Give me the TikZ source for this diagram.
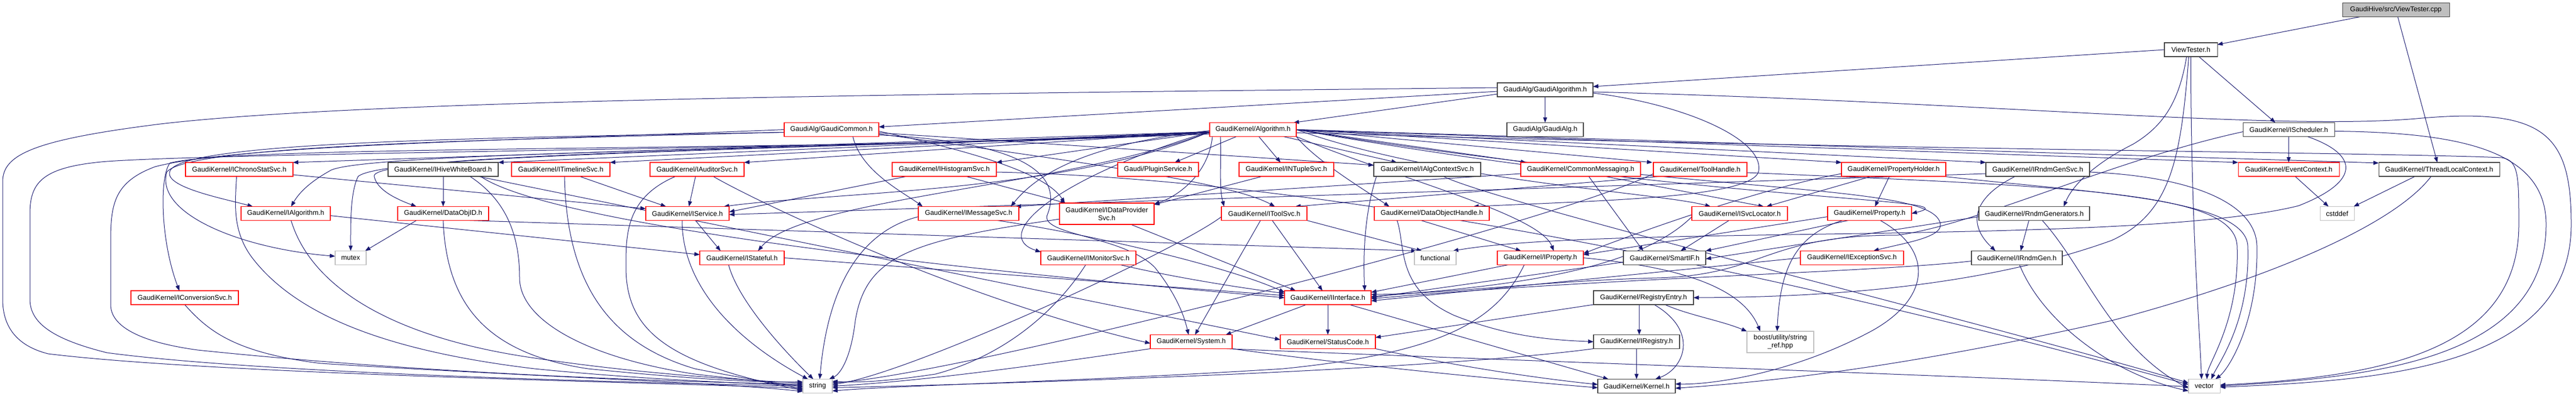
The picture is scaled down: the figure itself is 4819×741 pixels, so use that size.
\documentclass[tikz,border=0pt]{standalone}
\usepackage{fontspec}
\setmainfont{Liberation Sans}
\usetikzlibrary{arrows.meta}
\definecolor{navy}{RGB}{25,25,112}
\newcommand\nodefont{\fontsize{12.9pt}{15pt}\selectfont}
\pgfdeclarelayer{edgelayer}
\pgfsetlayers{edgelayer,main}
\tikzset{
  nb/.style={draw, line width=1.1pt, fill=white, minimum height=26pt, inner sep=0pt, outer sep=0pt, font=\nodefont, align=center, text=black},
  rn/.style={nb, draw=red},
  bn/.style={nb, draw=black!75},
  gn/.style={nb, draw=black!25},
  e/.style={draw=navy, line width=1pt, -{Triangle[length=10pt,width=7.5pt]}, fill=none}
}
\begin{document}
\begin{tikzpicture}[x=1pt,y=-1pt]
\useasboundingbox (0,0) rectangle (4819,741);
% ---------------- nodes
\node[bn, fill=black!25, minimum width=200pt] (cpp) at (4482,18.5) {GaudiHive/src/ViewTester.cpp};
\node[bn, minimum width=99pt] (vth) at (4098.5,93) {ViewTester.h};
\node[bn, minimum width=179pt] (galgo) at (2890.5,168) {GaudiAlg/GaudiAlgorithm.h};
\node[rn, minimum width=177pt] (gcommon) at (1555.5,242.5) {GaudiAlg/GaudiCommon.h};
\node[rn, minimum width=162pt] (algo) at (2344,242.5) {GaudiKernel/Algorithm.h};
\node[bn, minimum width=143pt] (galg) at (2890.5,242.5) {GaudiAlg/GaudiAlg.h};
\node[bn, minimum width=171pt] (isched) at (4281.5,242.5) {GaudiKernel/IScheduler.h};
% row 317
\node[rn, minimum width=201pt] (ichrono) at (447.5,317) {GaudiKernel/IChronoStatSvc.h};
\node[bn, minimum width=206pt] (ihive) at (829,317) {GaudiKernel/IHiveWhiteBoard.h};
\node[rn, minimum width=184pt] (itimeline) at (1049,317) {GaudiKernel/ITimelineSvc.h};
\node[rn, minimum width=176pt] (iauditor) at (1304,317) {GaudiKernel/IAuditorSvc.h};
\node[rn, minimum width=195pt] (ihisto) at (1766.5,317) {GaudiKernel/IHistogramSvc.h};
\node[rn, minimum width=151pt] (plugin) at (2166.5,317) {Gaudi/PluginService.h};
\node[rn, minimum width=177pt] (intuple) at (2406.5,317) {GaudiKernel/INTupleSvc.h};
\node[bn, minimum width=200pt] (ialgctx) at (2670,317) {GaudiKernel/IAlgContextSvc.h};
\node[rn, minimum width=224pt] (commsg) at (2957,317) {GaudiKernel/CommonMessaging.h};
\node[rn, minimum width=175pt] (toolh) at (3180.5,317) {GaudiKernel/ToolHandle.h};
\node[rn, minimum width=195pt] (propholder) at (3542.5,317) {GaudiKernel/PropertyHolder.h};
\node[bn, minimum width=194pt] (irndmsvc) at (3812,317) {GaudiKernel/IRndmGenSvc.h};
\node[rn, minimum width=189pt] (evctx) at (4281.5,317) {GaudiKernel/EventContext.h};
\node[bn, minimum width=226pt] (tlc) at (4563,317) {GaudiKernel/ThreadLocalContext.h};
% row 399.5
\node[rn, minimum width=167pt] (ialgorithm) at (534.5,399.5) {GaudiKernel/IAlgorithm.h};
\node[rn, minimum width=170pt] (dataobjid) at (829,399.5) {GaudiKernel/DataObjID.h};
\node[rn, minimum width=156pt] (iservice) at (1286,399.5) {GaudiKernel/IService.h};
\node[rn, minimum width=188pt] (imsgsvc) at (1812,399.5) {GaudiKernel/IMessageSvc.h};
\node[rn, minimum width=177pt, minimum height=40pt] (idataprov) at (2070.5,400) {GaudiKernel/IDataProvider\\Svc.h};
\node[rn, minimum width=160pt] (itoolsvc) at (2365,399.5) {GaudiKernel/IToolSvc.h};
\node[rn, minimum width=215pt] (dohandle) at (2678.5,399.5) {GaudiKernel/DataObjectHandle.h};
\node[rn, minimum width=179pt] (isvcloc) at (3254.5,399.5) {GaudiKernel/ISvcLocator.h};
\node[rn, minimum width=157pt] (property) at (3497.5,399.5) {GaudiKernel/Property.h};
\node[bn, minimum width=207pt] (rndmgens) at (3805.5,399.5) {GaudiKernel/RndmGenerators.h};
\node[gn, minimum width=64pt] (cstddef) at (4372,399.5) {cstddef};
% row 482.5
\node[gn, minimum width=58pt] (mutex) at (656,482.5) {mutex};
\node[rn, minimum width=158pt] (istateful) at (1388,482.5) {GaudiKernel/IStateful.h};
\node[rn, minimum width=178pt] (imonitor) at (2036,482.5) {GaudiKernel/IMonitorSvc.h};
\node[gn, minimum width=78pt] (functional) at (2685,482.5) {functional};
\node[rn, minimum width=161pt] (iproperty) at (2881.5,482.5) {GaudiKernel/IProperty.h};
\node[bn, minimum width=154pt] (smartif) at (3114,482.5) {GaudiKernel/SmartIF.h};
\node[rn, minimum width=193pt] (iexception) at (3464.5,482.5) {GaudiKernel/IExceptionSvc.h};
\node[bn, minimum width=170pt] (irndmgen) at (3773,482.5) {GaudiKernel/IRndmGen.h};
% row 557
\node[rn, minimum width=201pt] (iconversion) at (345.5,557) {GaudiKernel/IConversionSvc.h};
\node[rn, minimum width=162pt] (iinterface) at (2484,557) {GaudiKernel/IInterface.h};
\node[bn, minimum width=187pt] (regentry) at (3074.5,557) {GaudiKernel/RegistryEntry.h};
% row 639.5
\node[gn, minimum width=125pt, minimum height=40pt] (boost) at (3330.5,640) {boost/utility/string\\\_ref.hpp};
\node[rn, minimum width=153pt] (system) at (2228.5,639.5) {GaudiKernel/System.h};
\node[rn, minimum width=178pt] (statuscode) at (2484,639.5) {GaudiKernel/StatusCode.h};
\node[bn, minimum width=161pt] (iregistry) at (3061.5,639.5) {GaudiKernel/IRegistry.h};
% row 722.5
\node[gn, minimum width=55pt] (string) at (1529.5,722.5) {string};
\node[bn, minimum width=145pt] (kernel) at (3061.5,722.5) {GaudiKernel/Kernel.h};
\node[gn, minimum width=59pt] (vector) at (4123.5,722.5) {vector};

\begin{pgfonlayer}{edgelayer}
\fill[white] (0,0) rectangle (4819,741);
% root
\draw[e] (cpp) -- (vth);
\draw[e] (cpp) -- (tlc);
% ViewTester.h
\draw[e] (vth.west) -- ([yshift=6pt]galgo.east);
\draw[e] ([xshift=15pt]vth.south) -- ([xshift=-25pt]isched.north);
\draw[e] (vth.south) .. controls (4098,400) and (4115,620) .. ([xshift=-5pt]vector.north);
\draw[e] ([xshift=-8pt]vth.south) .. controls (4075,200) and (4040,240) .. (3990,270) .. controls (3930,300) and (3880,340) .. ([xshift=55pt]rndmgens.north);
\draw[e] ([xshift=-4pt]vth.south) .. controls (4080,300) and (4060,400) .. (3950,450) .. controls (3700,540) and (3400,556) .. (regentry.east);
% GaudiAlgorithm.h
\draw[e] (galgo) -- (galg);
\draw[e] ([yshift=-3pt]galgo.west) -- ([yshift=5pt]gcommon.east);
\draw[e] ([yshift=-8pt]galgo.west) -- ([xshift=-5pt]algo.north east);
\draw[e] ([yshift=4pt]galgo.west) .. controls (1800,175) and (700,185) .. (300,232) .. controls (60,262) and (5,290) .. (5,340) -- (5,560) .. controls (5,615) and (35,648) .. (90,662) .. controls (400,700) and (1200,715) .. ([yshift=-4pt]string.west);
\draw[e] ([yshift=-4pt]galgo.east) .. controls (3700,190) and (4250,245) .. (4520,222) .. controls (4760,200) and (4810,250) .. (4810,420) .. controls (4810,690) and (4450,712) .. ([yshift=-2pt]vector.east);
\draw[e] ([yshift=-6pt]galgo.east) .. controls (3150,195) and (3300,260) .. (3290,320) .. controls (3280,370) and (3000,375) .. ([xshift=-30pt]dohandle.north east);
% Algorithm.h fan
\draw[e] ([yshift=-4pt]algo.west) -- (ichrono.north east);
\draw[e] ([yshift=-4pt]algo.west) -- (ihive.north east);
\draw[e] ([yshift=-4pt]algo.west) -- (itimeline.north east);
\draw[e] ([yshift=-4pt]algo.west) -- (iauditor.north east);
\draw[e] ([yshift=-4pt]algo.west) -- (ihisto.north east);
\draw[e] (algo) -- (plugin);
\draw[e] (algo) -- (intuple);
\draw[e] (algo) -- (ialgctx);
\draw[e] (algo.east) -- ([xshift=10pt]commsg.north west);
\draw[e] (algo.east) -- ([xshift=-2pt]toolh.north west);
\draw[e] (algo.east) -- (propholder.north west);
\draw[e] (algo.east) -- (irndmsvc.north west);
\draw[e] (algo.east) -- (evctx.north west);
\draw[e] (algo.east) -- ([yshift=-1pt]tlc.north west);
\draw[e] ([yshift=-6pt]algo.east) .. controls (3500,280) and (4450,285) .. (4680,295) .. controls (4712,300) and (4712,330) .. (4712,420) .. controls (4712,660) and (4450,705) .. ([yshift=2pt]vector.east);
\draw[e] ([yshift=-6pt]algo.west) .. controls (1500,280) and (700,285) .. (620,318) .. controls (580,340) and (560,360) .. ([xshift=10pt]ialgorithm.north);
\draw[e] ([yshift=-6pt]algo.west) .. controls (1600,278) and (690,285) .. (700,330) .. controls (705,355) and (740,372) .. ([xshift=35pt]dataobjid.north west);
\draw[e] ([yshift=-6pt]algo.west) .. controls (1400,282) and (720,290) .. (670,330) .. controls (655,360) and (656,420) .. (mutex.north);
\draw[e] ([yshift=-8pt]algo.west) .. controls (1500,285) and (450,270) .. (318,305) .. controls (298,330) and (300,450) .. ([xshift=-10pt]iconversion.north);
\draw[e] ([yshift=-8pt]algo.west) .. controls (1500,280) and (450,285) .. (200,302) .. controls (80,312) and (56,340) .. (56,400) -- (56,560) .. controls (56,605) and (100,635) .. (200,660) .. controls (500,700) and (1200,716) .. (string.west);
\draw[e] ([yshift=-4pt]algo.west) .. controls (2000,360) and (1550,360) .. ([xshift=-10pt]iservice.north east);
\draw[e] ([yshift=-4pt]algo.west) .. controls (2000,350) and (1500,370) .. ([xshift=30pt]istateful.north);
\draw[e] ([yshift=-2pt]algo.west) .. controls (2100,262) and (1960,300) .. ([xshift=-15pt]imsgsvc.north east);
\draw[e] ([xshift=5pt]algo.south west) .. controls (2262,320) and (2210,365) .. ([yshift=-2pt]idataprov.north east);
\draw[e] ([xshift=20pt]algo.south west) .. controls (2285,300) and (2280,350) .. ([xshift=5pt]itoolsvc.north west);
\draw[e] ([yshift=-4pt]algo.west) .. controls (1980,330) and (1850,440) .. ([yshift=-2pt]imonitor.north west);
\draw[e] (algo.south east) .. controls (2460,300) and (2560,360) .. ([xshift=28pt]dohandle.north west);
\draw[e] (algo.east) .. controls (2700,340) and (3100,360) .. ([xshift=35pt]isvcloc.north west);
\draw[e] (algo.east) .. controls (3200,380) and (3700,370) .. (property.east);
\draw[e] (algo.south east) .. controls (2600,330) and (2880,400) .. ([xshift=25pt]iproperty.north);
\draw[e] (algo.east) .. controls (3200,370) and (3620,340) .. (3630,420) .. controls (3632,445) and (3560,455) .. ([xshift=40pt]iexception.north);
% GaudiCommon.h
\draw[e] ([yshift=-5pt]gcommon.west) .. controls (900,258) and (340,265) .. (318,320) .. controls (305,350) and (420,372) .. ([xshift=22pt]ialgorithm.north west);
\draw[e] ([yshift=-5pt]gcommon.west) .. controls (900,262) and (350,272) .. (312,322) .. controls (290,400) and (450,465) .. ([yshift=3pt]mutex.west);
\draw[e] (gcommon.west) .. controls (1000,262) and (450,270) .. (290,312) .. controls (215,340) and (207,380) .. (207,450) -- (207,570) .. controls (207,610) and (260,640) .. (370,655) .. controls (800,700) and (1300,716) .. ([yshift=4pt]string.west);
\draw[e] ([yshift=-6pt]gcommon.east) -- ([yshift=8pt]ialgctx.west);
\draw[e] ([xshift=40pt]gcommon.south) .. controls (1610,320) and (1690,360) .. ([xshift=8pt]imsgsvc.north west);
\draw[e] ([yshift=-3pt]gcommon.east) .. controls (1850,290) and (1960,330) .. ([xshift=10pt]idataprov.north west);
\draw[e] ([yshift=-8pt]gcommon.east) .. controls (2000,300) and (2300,340) .. ([xshift=20pt]itoolsvc.north);
\draw[e] ([yshift=-10pt]gcommon.east) .. controls (1900,265) and (1990,320) .. (1960,400) .. controls (1940,440) and (2100,440) .. (2160,500) .. controls (2200,550) and (2215,590) .. ([xshift=-5pt]system.north);
% row 317 sources
\draw[e] ([yshift=-10pt]ichrono.east) -- ([yshift=9pt]iservice.west);
\draw[e] ([xshift=-5pt]ichrono.south) .. controls (440,380) and (434,430) .. (470,480) .. controls (560,600) and (750,660) .. (1000,690) .. controls (1200,710) and (1400,718) .. ([yshift=2pt]string.west);
\draw[e] (ihive) -- (dataobjid);
\draw[e] ([xshift=70pt]ihive.south) .. controls (1000,400) and (1500,480) .. (iinterface.west);
\draw[e] ([xshift=65pt]ihive.south) -- ([yshift=4pt]statuscode.west);
\draw[e] ([xshift=50pt]ihive.south) .. controls (940,370) and (972,430) .. (972,520) .. controls (972,600) and (1100,670) .. (1300,700) .. controls (1400,712) and (1460,716) .. ([yshift=-2pt]string.west);
\draw[e] ([xshift=35pt]itimeline.south) -- ([xshift=-40pt]iservice.north);
\draw[e] ([xshift=7pt]itimeline.south) .. controls (1060,520) and (1130,640) .. (1300,690) .. controls (1400,710) and (1450,716) .. ([yshift=-6pt]string.west);
\draw[e] (iauditor) -- (iservice);
\draw[e] ([xshift=-40pt]iauditor.south) .. controls (1170,370) and (1171,440) .. (1171,500) .. controls (1171,620) and (1250,680) .. ([yshift=-8pt]string.west);
\draw[e] ([xshift=30pt]iauditor.south) .. controls (1420,380) and (1800,560) .. ([yshift=-3pt]system.west);
\draw[e] ([xshift=40pt]ihisto.south) -- ([xshift=12pt]idataprov.north west);
\draw[e] ([xshift=-70pt]ihisto.south) -- ([yshift=3pt]iservice.east);
\draw[e] ([yshift=-5pt]ihisto.east) .. controls (2700,340) and (3800,640) .. ([yshift=3pt]vector.west);
\draw[e] ([xshift=-45pt]intuple.south) -- ([yshift=-3pt]idataprov.north east);
\draw[e] ([xshift=5pt]ialgctx.south west) .. controls (2552,400) and (2550,480) .. ([xshift=-12pt]iinterface.north east);
\draw[e] ([xshift=30pt]ialgctx.south) .. controls (2800,380) and (3700,600) .. ([yshift=6pt]vector.west);
\draw[e] ([yshift=-8pt]commsg.west) -- ([xshift=-6pt]imsgsvc.north east);
\draw[e] ([xshift=15pt]commsg.south) -- ([xshift=-40pt]smartif.north);
\draw[e] ([xshift=45pt]commsg.south) -- ([xshift=45pt]isvcloc.north);
\draw[e] ([xshift=15pt]toolh.south west) -- ([xshift=-22pt]itoolsvc.north east);
\draw[e] ([yshift=-8pt]toolh.west) .. controls (2900,420) and (1800,700) .. ([yshift=6pt]string.east);
\draw[e] ([yshift=-6pt]toolh.east) .. controls (3900,350) and (4180,360) .. (4185,460) .. controls (4190,600) and (4130,680) .. ([xshift=5pt]vector.north);
\draw[e] ([xshift=-8pt]propholder.south) -- ([xshift=10pt]property.north);
\draw[e] ([xshift=-42pt]propholder.south) -- ([xshift=50pt]isvcloc.north);
\draw[e] ([yshift=-8pt]propholder.west) .. controls (3300,350) and (3050,440) .. ([yshift=8pt]iproperty.east);
\draw[e] ([xshift=-5pt]propholder.south east) .. controls (3900,360) and (4200,370) .. (4205,460) .. controls (4210,600) and (4150,680) .. ([xshift=13pt]vector.north);
\draw[e] ([xshift=-42pt]irndmsvc.south) .. controls (3690,370) and (3680,420) .. ([xshift=-40pt]irndmgen.north);
\draw[e] ([yshift=-8pt]irndmsvc.west) -- ([yshift=-2pt]iservice.east);
\draw[e] ([yshift=-5pt]irndmsvc.east) .. controls (4100,330) and (4220,380) .. (4222,460) .. controls (4225,600) and (4170,690) .. ([xshift=21pt]vector.north);
\draw[e] ([xshift=12pt]evctx.south) -- ([xshift=-16pt]cstddef.north);
\draw[e] ([xshift=-45pt]tlc.south) -- ([xshift=-1pt]cstddef.north east);
\draw[e] ([xshift=-15pt]tlc.south) .. controls (4480,420) and (4250,520) .. (3950,600) .. controls (3550,690) and (3300,715) .. ([yshift=-4pt]kernel.east);
% IScheduler.h
\draw[e] (isched) -- (evctx);
\draw[e] ([yshift=-4pt]isched.west) .. controls (3950,300) and (3700,420) .. (3550,440) .. controls (3300,440) and (3300,515) .. (3100,520) .. controls (2900,525) and (2700,550) .. ([yshift=6pt]iinterface.east);
\draw[e] ([xshift=35pt]isched.south) .. controls (4415,290) and (4415,340) .. (4300,385) .. controls (4000,460) and (3000,420) .. ([xshift=-6pt]functional.north east);
\draw[e] ([yshift=-3pt]isched.east) .. controls (4600,248) and (4763,280) .. (4763,420) .. controls (4763,680) and (4420,706) .. (vector.east);
% row 399 sources
\draw[e] ([yshift=-4pt]ialgorithm.east) -- ([yshift=6pt]istateful.west);
\draw[e] ([xshift=10pt]ialgorithm.south) .. controls (580,530) and (720,630) .. (1000,670) .. controls (1200,700) and (1400,712) .. ([yshift=6pt]string.west);
\draw[e] ([xshift=-50pt]dataobjid.south) -- ([xshift=-2pt]mutex.north east);
\draw[e] (dataobjid.south) .. controls (835,560) and (900,660) .. (1100,690) .. controls (1300,710) and (1420,716) .. ([yshift=8pt]string.west);
\draw[e] ([xshift=50pt]dataobjid.south) -- ([xshift=4pt]functional.north west);
\draw[e] ([xshift=15pt]iservice.south) -- ([xshift=-40pt]istateful.north);
\draw[e] ([xshift=-10pt]iservice.south) .. controls (1276,550) and (1400,650) .. ([xshift=-18pt]string.north);
\draw[e] ([xshift=-25pt]istateful.south) .. controls (1380,560) and (1460,650) .. ([xshift=-8pt]string.north);
\draw[e] (istateful.east) -- ([yshift=4pt]iinterface.west);
\draw[e] ([yshift=-6pt]imsgsvc.west) .. controls (1620,430) and (1550,520) .. ([xshift=4pt]string.north);
\draw[e] ([xshift=-40pt]imsgsvc.south east) .. controls (2050,440) and (2300,500) .. ([yshift=-3pt]iinterface.north west);
\draw[e] ([yshift=-10pt]idataprov.west) .. controls (1700,450) and (1620,480) .. (1600,600) .. controls (1592,670) and (1572,700) .. ([xshift=-6pt]string.north east);
\draw[e] ([xshift=45pt]idataprov.south) -- ([xshift=-60pt]iinterface.north);
\draw[e] ([xshift=-7pt]itoolsvc.south) -- ([xshift=7pt]system.north);
\draw[e] ([xshift=15pt]itoolsvc.south) -- ([xshift=-10pt]iinterface.north);
\draw[e] ([yshift=-6pt]itoolsvc.west) .. controls (2200,470) and (1700,700) .. ([yshift=3pt]string.east);
\draw[e] (itoolsvc.south east) -- ([xshift=14pt]functional.north west);
\draw[e] ([xshift=-65pt]dohandle.south) .. controls (2630,460) and (2610,540) .. (2720,590) .. controls (2820,630) and (2900,636) .. (iregistry.west);
\draw[e] ([xshift=-20pt]dohandle.south) -- ([xshift=-36pt]iproperty.north);
\draw[e] ([xshift=-20pt]isvcloc.south) -- ([xshift=30pt]smartif.north);
\draw[e] ([yshift=-6pt]isvcloc.west) .. controls (3050,520) and (2750,540) .. ([yshift=2pt]iinterface.east);
\draw[e] ([yshift=-6pt]property.west) -- ([yshift=6pt]iproperty.east);
\draw[e] ([xshift=-40pt]property.south) -- (smartif.north east);
\draw[e] ([xshift=-51pt]property.south) .. controls (3360,440) and (3330,500) .. ([xshift=-6pt]boost.north);
\draw[e] ([xshift=20pt]property.south) .. controls (3620,470) and (3610,560) .. (3500,620) .. controls (3350,700) and (3200,720) .. ([yshift=4pt]kernel.east);
\draw[e] ([xshift=-10pt]rndmgens.south) -- ([xshift=7pt]irndmgen.north);
\draw[e] ([yshift=-6pt]rndmgens.west) -- ([yshift=-2pt]smartif.east);
\draw[e] ([xshift=15pt]rndmgens.south) .. controls (3900,500) and (3950,650) .. ([yshift=-4pt]vector.west);
% row 482 sources
\draw[e] ([yshift=-6pt]irndmgen.west) .. controls (3500,510) and (3000,520) .. ([yshift=-2pt]iinterface.east);
\draw[e] ([xshift=5pt]irndmgen.south) .. controls (3820,600) and (3950,700) .. ([yshift=-9pt]vector.west);
\draw[e] (iexception.west) -- ([yshift=-6pt]iinterface.east);
\draw[e] ([xshift=-60pt]iproperty.south) -- ([yshift=10pt]iinterface.east);
\draw[e] ([xshift=-30pt]iproperty.south) .. controls (2800,600) and (2700,660) .. (2400,690) .. controls (2000,715) and (1700,720) .. ([yshift=-9pt]string.east);
\draw[e] (iproperty.east) .. controls (3150,500) and (3260,540) .. ([xshift=25pt]boost.north west);
\draw[e] ([yshift=-8pt]smartif.west) -- (iinterface.east);
\draw[e] ([xshift=-5pt]imonitor.south) .. controls (1990,560) and (1900,660) .. (1750,700) .. controls (1650,715) and (1600,716) .. ([yshift=9pt]string.east);
\draw[e] ([xshift=60pt]imonitor.south) .. controls (2200,520) and (2330,540) .. ([yshift=8pt]iinterface.west);
% row 557 sources
\draw[e] (iconversion.south) .. controls (390,620) and (440,660) .. (600,680) .. controls (1000,705) and (1350,716) .. ([yshift=-10pt]string.west);
\draw[e] (iinterface) -- (statuscode);
\draw[e] ([xshift=-40pt]iinterface.south) -- ([xshift=-12pt]system.north east);
\draw[e] ([xshift=40pt]iinterface.south) -- ([xshift=20pt]kernel.north west);
\draw[e] (regentry.south west) -- ([yshift=8pt]statuscode.east);
\draw[e] ([xshift=-8pt]regentry.south) -- ([xshift=5pt]iregistry.north);
\draw[e] ([xshift=20pt]regentry.south) .. controls (3180,620) and (3150,690) .. ([xshift=35pt]kernel.north);
\draw[e] ([xshift=40pt]regentry.south) .. controls (3160,590) and (3220,600) .. (boost.north west);
% bottom rows
\draw[e] (system.south west) .. controls (1900,690) and (1700,715) .. (string.east);
\draw[e] (system.south east) .. controls (2500,680) and (2800,710) .. ([yshift=-3pt]kernel.west);
\draw[e] ([xshift=-10pt]system.south east) .. controls (2700,670) and (3600,700) .. ([yshift=-1pt]vector.west);
\draw[e] (statuscode.south east) .. controls (2700,680) and (2850,705) .. ([yshift=3pt]kernel.west);
\draw[e] (iregistry) -- (kernel);
\draw[e] (iregistry.south west) .. controls (2700,690) and (2000,715) .. ([yshift=-3pt]string.east);
\end{pgfonlayer}
\end{tikzpicture}
\end{document}
